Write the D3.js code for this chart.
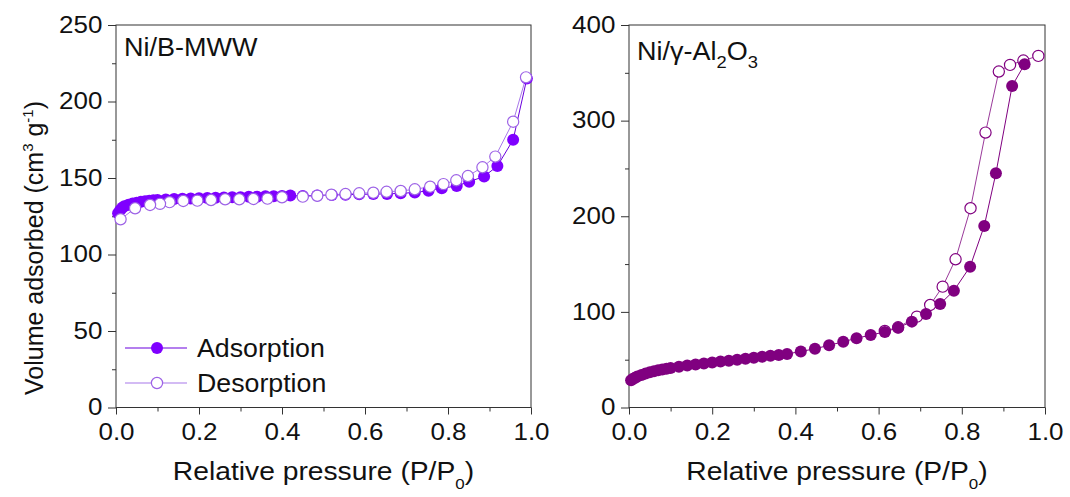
<!DOCTYPE html>
<html>
<head>
<meta charset="utf-8">
<script src="https://cdn.jsdelivr.net/npm/d3@7"></script>
<style>
  body { margin: 0; background: #fff; }
  text { font-family: "Liberation Sans", Arial, sans-serif; fill: #111; }
</style>
</head>
<body>
<div id="chart"></div>
<script>
/**
 */
// Ni/B-MWW
const mwwAdsX = [0.005, 0.01, 0.015, 0.02, 0.03, 0.04, 0.05, 0.06, 0.07, 0.08, 0.09, 0.10, 0.12, 0.14, 0.16, 0.18, 0.20, 0.22, 0.24, 0.26, 0.28, 0.30, 0.32, 0.34, 0.36, 0.38, 0.40, 0.42, 0.45, 0.485, 0.52, 0.553, 0.586, 0.62, 0.653, 0.686, 0.72, 0.753, 0.785, 0.821, 0.851, 0.887, 0.919, 0.957, 0.99];
const mwwAdsY = [127, 129, 130.5, 131.5, 132.5, 133.3, 133.9, 134.4, 134.8, 135.1, 135.4, 135.6, 135.9, 136.2, 136.4, 136.6, 136.8, 137, 137.1, 137.3, 137.4, 137.5, 137.7, 137.8, 138, 138.1, 138.3, 138.5, 138.3, 138.6, 138.9, 139.1, 139.3, 139.5, 139.6, 140, 140.5, 141.7, 143.3, 144.8, 147.6, 151, 157.8, 175, 215];
const mwwDesX = [0.988, 0.957, 0.914, 0.883, 0.848, 0.82, 0.789, 0.757, 0.72, 0.686, 0.652, 0.62, 0.586, 0.553, 0.519, 0.485, 0.45, 0.40, 0.365, 0.331, 0.297, 0.263, 0.229, 0.196, 0.162, 0.129, 0.106, 0.082, 0.046, 0.011];
const mwwDesY = [215.8, 186.8, 164, 157, 151.3, 148.5, 146, 144.3, 142.6, 141.5, 141, 140.4, 140, 139.5, 139.1, 138.4, 137.8, 137.4, 136.5, 136.3, 136.1, 136.1, 135.6, 135.2, 135, 134.2, 133.1, 132.4, 130.2, 123];

// Ni/gamma-Al2O3
const aloAdsX = [0.005, 0.01, 0.015, 0.02, 0.03, 0.04, 0.05, 0.06, 0.07, 0.08, 0.09, 0.10, 0.12, 0.14, 0.16, 0.18, 0.20, 0.22, 0.24, 0.26, 0.28, 0.30, 0.32, 0.34, 0.36, 0.38, 0.413, 0.447, 0.481, 0.515, 0.547, 0.581, 0.615, 0.647, 0.68, 0.714, 0.748, 0.781, 0.82, 0.854, 0.882, 0.921, 0.951];
const aloAdsY = [28.5, 30, 31.2, 32.3, 34, 35.5, 36.8, 37.9, 38.9, 39.8, 40.6, 41.3, 42.6, 43.8, 44.9, 46, 47, 48, 49, 50, 51, 52, 53, 54, 55, 56, 58.5, 61.5, 65, 68.8, 72.4, 75.8, 79, 83.5, 89.8, 97.8, 108.3, 122.2, 147.3, 189.9, 245, 336.3, 359];
const aloDesX = [0.984, 0.948, 0.916, 0.889, 0.857, 0.821, 0.785, 0.754, 0.724, 0.692, 0.647, 0.615];
const aloDesY = [367.7, 362.8, 358.3, 351.3, 287.5, 208.4, 155, 126.4, 107.2, 95, 83.9, 80];

// ticks
const xMajor = [0, 0.2, 0.4, 0.6, 0.8, 1.0];
const xMinor = [0.1, 0.3, 0.5, 0.7, 0.9];
const mwwYMajor = [0, 50, 100, 150, 200, 250];
const mwwYMinor = [25, 75, 125, 175, 225];
const aloYMajor = [0, 100, 200, 300, 400];
const aloYMinor = [50, 150, 250, 350];
const legendNames = ['Adsorption', 'Desorption'];

/**
 * Basic settings
 */
const canvasWidth = 1070;
const canvasHeight = 497;
const plotTop = 25;
const plotBottom = 407.5;

const svg = d3.select('#chart')
  .append('svg')
  .attr('width', canvasWidth)
  .attr('height', canvasHeight);

const pairs = (xs, ys) => xs.map((v, i) => [v, ys[i]]);

// text placed at (x, y), slightly widened like the source rendering
function label(parent, x, y, anchor, size, sx) {
  return parent.append('text')
    .attr('transform', `translate(${x},${y}) scale(${sx},1)`)
    .attr('text-anchor', anchor)
    .style('font-size', size + 'px');
}

function styleAxis(sel) {
  sel.select('.domain').remove();
  sel.selectAll('.tick line').attr('stroke', '#333');
  sel.selectAll('.tick text')
    .attr('fill', '#111')
    .style('font-family', '"Liberation Sans", Arial, sans-serif')
    .style('font-size', '23px')
    .attr('transform', 'scale(1.13,1)');
}

function drawPanel(p) {
  const g = svg.append('g');
  const x = d3.scaleLinear().domain([0, 1]).range([p.left, p.right]);
  const y = d3.scaleLinear().domain([0, p.yMax]).range([plotBottom, plotTop]);

  // minor ticks
  g.append('g')
    .attr('transform', `translate(0,${plotBottom})`)
    .call(d3.axisBottom(x).tickValues(xMinor).tickSize(4).tickSizeOuter(0).tickFormat(''))
    .call(styleAxis);
  g.append('g')
    .attr('transform', `translate(${p.left},0)`)
    .call(d3.axisLeft(y).tickValues(p.yMinor).tickSize(4).tickSizeOuter(0).tickFormat(''))
    .call(styleAxis);

  // major ticks + labels
  g.append('g')
    .attr('transform', `translate(0,${plotBottom})`)
    .call(d3.axisBottom(x).tickValues(xMajor).tickSize(7).tickPadding(9).tickSizeOuter(0).tickFormat(d3.format('.1f')))
    .call(styleAxis);
  g.append('g')
    .attr('transform', `translate(${p.left},0)`)
    .call(d3.axisLeft(y).tickValues(p.yMajor).tickSize(8).tickPadding(4).tickSizeOuter(0).tickFormat(d3.format('d')))
    .call(styleAxis);

  // frame
  g.append('rect')
    .attr('x', p.left)
    .attr('y', plotTop)
    .attr('width', p.right - p.left)
    .attr('height', plotBottom - plotTop)
    .attr('fill', 'none')
    .attr('stroke', '#333')
    .attr('stroke-width', 1);

  const line = d3.line().x(d => x(d[0])).y(d => y(d[1]));
  const ads = pairs(p.adsX, p.adsY);
  const des = pairs(p.desX, p.desY);

  g.append('path').datum(ads).attr('d', line)
    .attr('fill', 'none').attr('stroke', p.adsLine).attr('stroke-width', 1);
  g.append('path').datum(des).attr('d', line)
    .attr('fill', 'none').attr('stroke', p.desLine).attr('stroke-width', 1);

  const drawAds = () => g.append('g').selectAll('circle')
    .data(ads).join('circle')
    .attr('cx', d => x(d[0])).attr('cy', d => y(d[1])).attr('r', 6)
    .attr('fill', p.adsFill);
  const drawDes = () => g.append('g').selectAll('circle')
    .data(des).join('circle')
    .attr('cx', d => x(d[0])).attr('cy', d => y(d[1])).attr('r', 5.6)
    .attr('fill', '#fff').attr('stroke', p.desStroke).attr('stroke-width', 1.2);

  if (p.openOnTop) { drawAds(); drawDes(); } else { drawDes(); drawAds(); }

  // x title
  const xt = label(g, (p.left + p.right) / 2, 480, 'middle', 25, 1.13);
  xt.append('tspan').text('Relative pressure (P/P');
  xt.append('tspan').attr('dy', 9).style('font-size', '15px').text('0');
  xt.append('tspan').attr('dy', -9).text(')');

  return { g, x, y };
}

/**
 * Left panel
 */
const left = drawPanel({
  left: 116, right: 531, yMax: 250,
  yMajor: mwwYMajor, yMinor: mwwYMinor,
  adsX: mwwAdsX, adsY: mwwAdsY, desX: mwwDesX, desY: mwwDesY,
  adsFill: '#7f00ff', adsLine: '#6a00dd',
  desStroke: '#9d62e6', desLine: '#a878ea',
  openOnTop: true
});

const t1 = label(left.g, 124, 56, 'start', 25, 1.08);
t1.text('Ni/B-MWW');

// legend
const legend = left.g.append('g');
legendNames.forEach((name, i) => {
  const cy = 348 + i * 35;
  legend.append('line')
    .attr('x1', 125).attr('x2', 187).attr('y1', cy).attr('y2', cy)
    .attr('stroke', i === 0 ? '#6a00dd' : '#a878ea').attr('stroke-width', 1.2);
  legend.append('circle')
    .attr('cx', 157).attr('cy', cy).attr('r', i === 0 ? 6 : 5.6)
    .attr('fill', i === 0 ? '#7f00ff' : '#fff')
    .attr('stroke', i === 0 ? 'none' : '#9d62e6').attr('stroke-width', 1.2);
  label(legend, 197, cy + 9, 'start', 25, 1.07).text(name);
});

// y title
const yt = left.g.append('text')
  .attr('transform', 'translate(43,248) rotate(-90)')
  .attr('text-anchor', 'middle')
  .style('font-size', '25px');
yt.append('tspan').text('Volume adsorbed (cm');
yt.append('tspan').attr('dy', -10).style('font-size', '15px').text('3');
yt.append('tspan').attr('dy', 10).text(' g');
yt.append('tspan').attr('dy', -10).style('font-size', '15px').text('-1');
yt.append('tspan').attr('dy', 10).text(')');

/**
 * Right panel
 */
const right = drawPanel({
  left: 629, right: 1045, yMax: 400,
  yMajor: aloYMajor, yMinor: aloYMinor,
  adsX: aloAdsX, adsY: aloAdsY, desX: aloDesX, desY: aloDesY,
  adsFill: '#800080', adsLine: '#800080',
  desStroke: '#800080', desLine: '#9a3a9a',
  openOnTop: false
});

const t2 = label(right.g, 637, 60, 'start', 25, 1.08);
t2.append('tspan').text('Ni/\u03b3-Al');
t2.append('tspan').attr('dy', 8).style('font-size', '17px').text('2');
t2.append('tspan').attr('dy', -8).text('O');
t2.append('tspan').attr('dy', 8).style('font-size', '17px').text('3');
</script>
</body>
</html>
